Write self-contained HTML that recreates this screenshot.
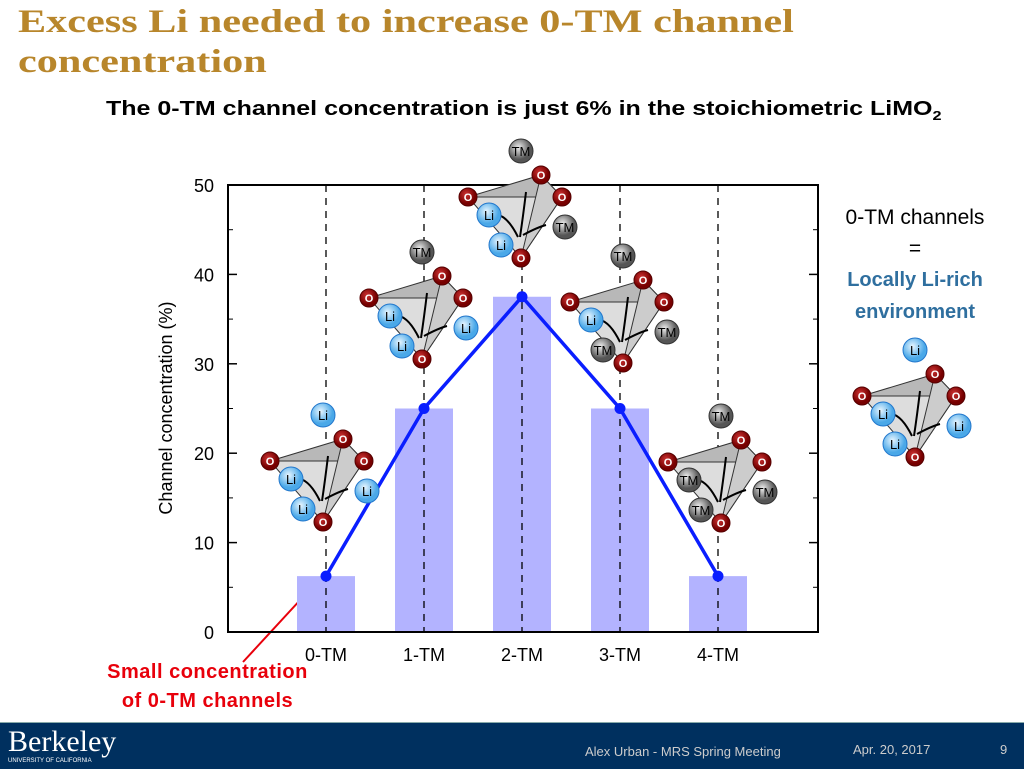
<!DOCTYPE html>
<html><head><meta charset="utf-8"><style>
body{margin:0;width:1024px;height:768px;overflow:hidden;background:#fff;font-family:"Liberation Sans",sans-serif;position:relative}
.t{position:absolute}
</style></head><body>
<div class="t" style="left:18px;top:2px;font-family:'Liberation Serif',serif;font-weight:bold;font-size:33px;line-height:40px;color:#b8862b;transform:scaleX(1.28);transform-origin:0 0;white-space:nowrap">Excess Li needed to increase 0-TM channel<br>concentration</div>
<div class="t" style="left:106px;top:98px;font-weight:bold;font-size:20px;color:#000;transform:scaleX(1.25);transform-origin:0 0;white-space:nowrap">The 0-TM channel concentration is just 6% in the stoichiometric LiMO<sub style="font-size:13px">2</sub></div>
<div class="t" style="left:815px;top:202px;width:200px;text-align:center;font-size:21px;line-height:31px;color:#000">0-TM channels<br>=<br><b style="color:#2f6f9f;font-size:20px">Locally Li-rich<br>environment</b></div>
<div class="t" style="left:90px;top:658px;width:235px;text-align:center;font-weight:bold;font-size:20px;line-height:29px;color:#e8000b;letter-spacing:0.5px">Small concentration<br>of 0-TM channels</div>
<svg class="t" style="left:0;top:0" width="1024" height="768" id="svg">
<defs>
<radialGradient id="gO" cx="40%" cy="35%"><stop offset="0" stop-color="#c33"/><stop offset="1" stop-color="#700"/></radialGradient>
<radialGradient id="gLi" cx="40%" cy="35%"><stop offset="0" stop-color="#e8f6ff"/><stop offset="1" stop-color="#4aa8e8"/></radialGradient>
<radialGradient id="gTM" cx="40%" cy="35%"><stop offset="0" stop-color="#eee"/><stop offset="1" stop-color="#555"/></radialGradient>
</defs>
<line x1="243" y1="662" x2="302" y2="598" stroke="#e8000b" stroke-width="2"/>
</svg>
<div class="t" style="left:0;top:722px;width:1024px;height:46px;background:#00305f;border-top:1px solid #8aa"></div>
<div class="t" style="left:8px;top:726px;color:#fff;font-family:'Liberation Serif',serif;font-size:30px;line-height:32px">Berkeley<div style="font-family:'Liberation Sans';font-size:6px;line-height:6px">UNIVERSITY OF CALIFORNIA</div></div>
<div class="t" style="left:585px;top:744px;font-size:13px;color:#ccc">Alex Urban - MRS Spring Meeting</div>
<div class="t" style="left:853px;top:742px;font-size:13px;color:#ccc">Apr. 20, 2017</div>
<div class="t" style="left:1000px;top:742px;font-size:13px;color:#ccc">9</div>
<script>
const categories=["0-TM","1-TM","2-TM","3-TM","4-TM"];
const barValues=[6.25,25,37.5,25,6.25];
const lineValues=[6.25,25,37.5,25,6.25];
const yTicks=[0,10,20,30,40,50];
const NS="http://www.w3.org/2000/svg",svg=document.getElementById('svg');
const L=228,R=818,T=185,B=632;
const x=i=>326+i*98, y=v=>B-(v/50)*(B-T);
function el(t,a,p){const e=document.createElementNS(NS,t);for(const k in a)e.setAttribute(k,a[k]);(p||svg).appendChild(e);return e;}
categories.forEach((c,i)=>{
 const b=el('rect',{x:x(i)-29,y:y(barValues[i]),width:58,height:B-y(barValues[i]),fill:'#b3b3ff'});
 
 
 el('line',{x1:x(i),y1:T,x2:x(i),y2:B,stroke:'#000','stroke-width':1.3,'stroke-dasharray':'7,6'});
 const t=el('text',{x:x(i),y:661,'text-anchor':'middle','font-size':18});t.textContent=c;
 
 
});
el('rect',{x:L,y:T,width:R-L,height:B-T,fill:'none',stroke:'#000','stroke-width':2});
yTicks.forEach(v=>{
 el('line',{x1:L,y1:y(v),x2:L+9,y2:y(v),stroke:'#000','stroke-width':1.5});
 el('line',{x1:R,y1:y(v),x2:R-9,y2:y(v),stroke:'#000','stroke-width':1.5});
 if(v<50){el('line',{x1:L,y1:y(v+5),x2:L+5,y2:y(v+5),stroke:'#000'});el('line',{x1:R,y1:y(v+5),x2:R-5,y2:y(v+5),stroke:'#000'});}
 const t=el('text',{x:L-14,y:y(v)+7,'text-anchor':'end','font-size':18});t.textContent=v;
 
 
});
const yt=el('text',{transform:'translate(172,408) rotate(-90)','text-anchor':'middle','font-size':18});yt.textContent='Channel concentration (%)';


const pl=el('polyline',{points:lineValues.map((v,i)=>x(i)+','+y(v)).join(' '),fill:'none',stroke:'#0a1eff','stroke-width':3.5});


lineValues.forEach((v,i)=>{const c=el('circle',{cx:x(i),cy:y(v),r:5.5,fill:'#0a1eff'});
 
 });
function atom(g,cx,cy,type){const r=type=='O'?9:12;
 el('circle',{cx,cy,r,fill:type=='O'?'url(#gO)':type=='Li'?'url(#gLi)':'url(#gTM)',stroke:type=='O'?'#500':type=='Li'?'#27c':'#333','stroke-width':1},g);
 const t=el('text',{x:cx,y:cy+(type=='O'?4:5),'text-anchor':'middle','font-size':type=='O'?11:13,'font-weight':type=='O'?'bold':'normal',fill:type=='O'?'#fff':'#000'},g);t.textContent=type;}
function tetra(ox,oy,sites,name){
 const g=el('g',{transform:`translate(${ox},${oy})`});
 
 
 el('polygon',{points:'0,0 73,-22 94,0',fill:'#b8b8b8',stroke:'#333'},g);
 el('polygon',{points:'0,0 94,0 53,61',fill:'#ddd',stroke:'#333'},g);
 el('polygon',{points:'73,-22 94,0 53,61',fill:'#ccc',stroke:'#333'},g);
 el('path',{d:'M50,40 Q40,20 30,18 M52,40 Q55,20 58,-5 M55,38 Q70,30 78,28',fill:'none',stroke:'#000','stroke-width':2},g);
 [[0,0],[73,-22],[94,0],[53,61]].forEach(p=>atom(g,p[0],p[1],'O'));
 const pos=[[53,-46],[21,18],[33,48],[97,30]];
 sites.forEach((s,i)=>atom(g,pos[i][0],pos[i][1],s));
}
tetra(270,461,['Li','Li','Li','Li'],'tetra-0tm');
tetra(369,298,['TM','Li','Li','Li'],'tetra-1tm');
tetra(468,197,['TM','Li','Li','TM'],'tetra-2tm');
tetra(570,302,['TM','Li','TM','TM'],'tetra-3tm');
tetra(668,462,['TM','TM','TM','TM'],'tetra-4tm');
tetra(862,396,['Li','Li','Li','Li'],'tetra-example');
</script>
</body></html>
